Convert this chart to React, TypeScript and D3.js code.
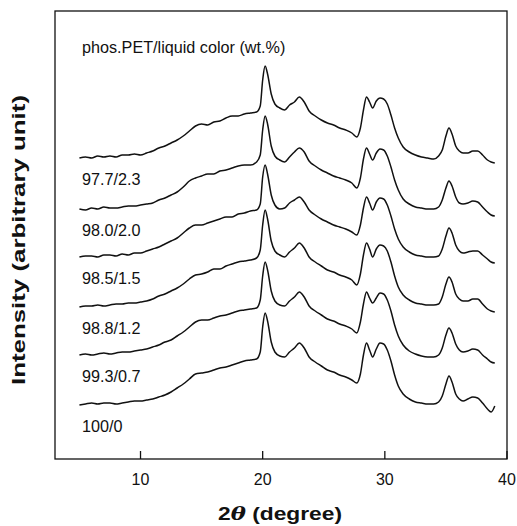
import React from "react";
import * as d3 from "d3";

const twoTheta: number[] = [
  5, 5.5, 6, 6.5, 7, 7.5, 8, 8.5, 9, 9.5,
  10, 10.5, 11, 11.5, 12, 12.5, 13, 13.5, 14, 14.5,
  15, 15.5, 16, 16.5, 17, 17.5, 18, 18.5, 19, 19.5,
  19.8, 20, 20.2, 20.4, 20.7, 21, 21.4, 21.8, 22.2, 22.6,
  23, 23.4, 23.8, 24.3, 24.8, 25.3, 25.8, 26.3, 26.8, 27.3,
  27.7, 28, 28.25, 28.5, 28.75, 29, 29.3, 29.6, 29.9, 30.2,
  30.5, 30.8, 31.1, 31.5, 32, 32.5, 33, 33.5, 34, 34.4,
  34.7, 35, 35.25, 35.5, 35.8, 36.1, 36.4, 36.8, 37.2, 37.6,
  38, 38.4, 38.7, 39,
];

const s977: number[] = [
  0, 1, 0, 2, 1, 2, 1, 3, 3, 4,
  3, 5, 7, 10, 12, 15, 18, 22, 27, 32,
  34, 33, 36, 37, 40, 42, 42, 44, 45, 46,
  52, 78, 92, 84, 64, 54, 50, 48, 53, 56,
  61, 56, 47, 42, 38, 35, 33, 30, 28, 25,
  21, 30, 48, 61, 56, 50, 57, 60, 59, 54,
  43, 30, 20, 11, 6, 3, 1, 0, -1, 2,
  8, 22, 30, 24, 12, 7, 5, 5, 7, 7,
  3, -2, -4, -5,
];
const s980: number[] = [
  0, -1, 1, 0, 2, 1, 1, 2, 3, 3,
  4, 5, 6, 9, 11, 14, 17, 22, 28, 31,
  33, 35, 35, 38, 39, 41, 43, 44, 44, 47,
  54, 79, 93, 85, 63, 53, 49, 47, 52, 57,
  61, 57, 48, 43, 39, 36, 33, 31, 29, 26,
  21, 31, 50, 61, 55, 49, 56, 60, 59, 53,
  42, 29, 19, 10, 5, 2, 1, 0, 0, 2,
  9, 21, 28, 23, 12, 6, 5, 6, 8, 7,
  2, -3, -6, -7,
];
const s985: number[] = [
  0, 1, 1, 0, 2, 2, 1, 3, 2, 4,
  4, 6, 8, 10, 13, 16, 19, 24, 29, 32,
  32, 34, 36, 38, 40, 40, 43, 44, 46, 47,
  53, 80, 92, 83, 62, 52, 48, 49, 54, 57,
  60, 55, 47, 42, 38, 35, 32, 30, 28, 25,
  22, 32, 49, 60, 54, 47, 55, 59, 58, 52,
  41, 28, 18, 10, 5, 2, 1, 0, 0, 1,
  8, 21, 29, 24, 12, 6, 4, 5, 6, 6,
  2, -2, -5, -6,
];
const s988: number[] = [
  0, 1, 1, 2, 1, 2, 3, 3, 4, 4,
  5, 6, 8, 11, 13, 16, 19, 23, 28, 32,
  33, 35, 38, 38, 41, 43, 45, 46, 47, 49,
  57, 82, 97, 88, 66, 56, 52, 50, 55, 59,
  64, 59, 50, 45, 41, 37, 35, 32, 30, 27,
  22, 33, 52, 64, 58, 50, 58, 62, 61, 56,
  45, 31, 20, 12, 7, 4, 3, 2, 2, 3,
  10, 23, 30, 25, 13, 8, 6, 6, 8, 8,
  3, -2, -4, -5,
];
const s993: number[] = [
  0, 1, 0, 1, 2, 1, 2, 3, 3, 4,
  5, 6, 8, 10, 13, 15, 19, 23, 28, 33,
  35, 35, 37, 39, 40, 42, 44, 45, 46, 47,
  55, 79, 93, 85, 64, 54, 50, 49, 54, 58,
  63, 58, 49, 44, 40, 36, 34, 31, 29, 26,
  22, 33, 51, 63, 57, 52, 57, 62, 61, 55,
  44, 30, 19, 10, 4, 1, -1, -2, -2, 0,
  7, 20, 27, 22, 11, 5, 3, 4, 6, 5,
  0, -4, -7, -8,
];
const s1000: number[] = [
  0, 1, 2, 1, 2, 2, 1, 2, 3, 4,
  4, 5, 6, 8, 10, 13, 17, 21, 26, 31,
  32, 33, 35, 37, 38, 40, 42, 44, 45, 46,
  53, 78, 92, 84, 63, 53, 49, 48, 53, 57,
  62, 57, 48, 43, 39, 35, 33, 30, 28, 25,
  22, 31, 50, 62, 55, 48, 56, 62, 61, 55,
  44, 30, 19, 11, 6, 3, 2, 1, 1, 3,
  9, 21, 29, 23, 11, 6, 4, 6, 8, 7,
  2, -4, -7, -1,
];

const seriesLabels: string[] = ["97.7/2.3", "98.0/2.0", "98.5/1.5", "98.8/1.2", "99.3/0.7", "100/0"];
const seriesValues: number[][] = [s977, s980, s985, s988, s993, s1000];
const offsets: number[] = [301, 250, 202, 152, 104, 54];
const xTicks: number[] = [10, 20, 30, 40];
const legendTitle = "phos.PET/liquid color (wt.%)";

const W = 517;
const H = 526;
const left = 55, right = 507, top = 11, bottom = 459;

export default function App() {
  const x = d3.scaleLinear().domain([3, 40]).range([left, right]);
  const y = d3.scaleLinear().domain([0, bottom - top]).range([bottom, top]);
  const line = d3
    .line<[number, number]>()
    .x((d) => x(d[0]))
    .y((d) => y(d[1]))
    .curve(d3.curveMonotoneX);

  const font = "'Liberation Sans', Arial, Helvetica, sans-serif";

  return (
    <svg
      width={W}
      height={H}
      viewBox={`0 0 ${W} ${H}`}
      style={{ position: "absolute", left: 0, top: 0, background: "#fff" }}
      fontFamily={font}
    >
      <rect x={0} y={0} width={W} height={H} fill="#fff" />
      {seriesValues.map((vals, i) => {
        const pts: [number, number][] = twoTheta.map((t, j) => [t, offsets[i] + vals[j]]);
        return (
          <path
            key={i}
            d={line(pts) || ""}
            fill="none"
            stroke="#111"
            strokeWidth={1.5}
            strokeLinejoin="round"
          />
        );
      })}
      <rect
        x={left}
        y={top}
        width={right - left}
        height={bottom - top}
        fill="none"
        stroke="#111"
        strokeWidth={1.3}
      />
      {xTicks.map((t) => (
        <g key={t}>
          <line x1={x(t)} x2={x(t)} y1={bottom} y2={bottom - 8} stroke="#111" strokeWidth={1.3} />
          <text x={x(t)} y={485} textAnchor="middle" fontSize={16} fill="#111">
            {t}
          </text>
        </g>
      ))}
      <text x={82} y={53} fontSize={16.2} fill="#111">
        {legendTitle}
      </text>
      {seriesLabels.map((lab, i) => (
        <text key={lab} x={82} y={y(offsets[i]) + 27} fontSize={16.2} fill="#111">
          {lab}
        </text>
      ))}
      <text
        x={280}
        y={520}
        textAnchor="middle"
        fontSize={19}
        fontWeight="bold"
        fill="#111"
        textLength={124}
        lengthAdjust="spacingAndGlyphs"
      >
        2<tspan fontStyle="italic" fontFamily="'DejaVu Serif', 'Liberation Serif', serif">θ</tspan> (degree)
      </text>
      <text
        transform={`translate(25,240) rotate(-90)`}
        textAnchor="middle"
        fontSize={18}
        fontWeight="bold"
        fill="#111"
        textLength={290}
        lengthAdjust="spacingAndGlyphs"
      >
        Intensity (arbitrary unit)
      </text>
    </svg>
  );
}
